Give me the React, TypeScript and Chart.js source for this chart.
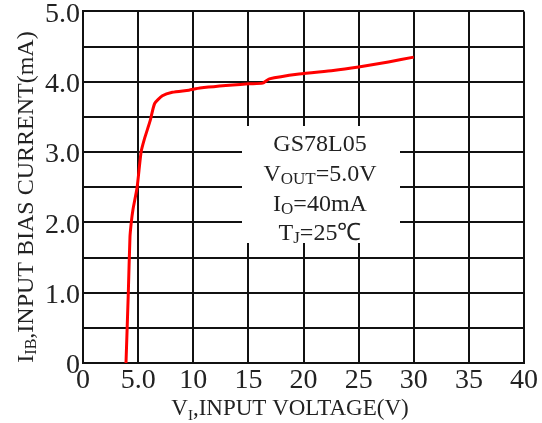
import React, { useEffect, useRef } from "react";
import { Chart, registerables } from "chart.js";

Chart.register(...registerables);

const voltage = [3.9, 4.11, 4.26, 4.38, 4.53, 4.91, 5.27, 5.58, 6.1, 6.5, 7.2, 8.1, 9.6, 10.6, 15, 16.3, 16.9, 19.6, 22.7, 25, 27.7, 30];
const current = [0, 1.0, 1.79, 2.0, 2.18, 2.5, 3.0, 3.19, 3.45, 3.69, 3.8, 3.85, 3.88, 3.91, 3.97, 3.98, 4.04, 4.11, 4.16, 4.21, 4.28, 4.35];

const xTickLabels: Record<number, string> = { 0: "0", 5: "5.0", 10: "10", 15: "15", 20: "20", 25: "25", 30: "30", 35: "35", 40: "40" };
const yTickLabels: Record<number, string> = { 0: "0", 1: "1.0", 2: "2.0", 3: "3.0", 4: "4.0", 5: "5.0" };

type Part = { t: string; sub?: boolean };
const xTitle: Part[] = [{ t: "V" }, { t: "I", sub: true }, { t: ",INPUT VOLTAGE(V)" }];
const yTitle: Part[] = [{ t: "I" }, { t: "IB", sub: true }, { t: ",INPUT BIAS CURRENT(mA)" }];
const noteLines: Part[][] = [
  [{ t: "GS78L05" }],
  [{ t: "V" }, { t: "OUT", sub: true }, { t: "=5.0V" }],
  [{ t: "I" }, { t: "O", sub: true }, { t: "=40mA" }],
  [{ t: "T" }, { t: "J", sub: true }, { t: "=25\u2103" }],
];

const FONT = '"Liberation Serif", "Times New Roman", serif';

function drawRich(ctx: CanvasRenderingContext2D, parts: Part[], x: number, y: number, size: number, subSize: number, subDy: number) {
  let total = 0;
  const widths = parts.map((p) => {
    ctx.font = `${p.sub ? subSize : size}px ${FONT}`;
    const w = ctx.measureText(p.t).width;
    total += w;
    return w;
  });
  let cx = x - total / 2;
  ctx.textAlign = "left";
  ctx.textBaseline = "alphabetic";
  parts.forEach((p, i) => {
    ctx.font = `${p.sub ? subSize : size}px ${FONT}`;
    ctx.fillText(p.t, cx, p.sub ? y + subDy : y);
    cx += widths[i];
  });
}

const overlay = {
  id: "overlay",
  afterDraw(chart: any) {
    const ctx: CanvasRenderingContext2D = chart.ctx;
    ctx.save();
    ctx.fillStyle = "#ffffff";
    ctx.fillRect(242, 126, 158, 117);
    ctx.fillStyle = "#222";
    const baselines = [151, 181, 211, 240];
    noteLines.forEach((ln, i) => drawRich(ctx, ln, 320, baselines[i], 24, 17, 3));
    drawRich(ctx, xTitle, 290, 415, 23, 15, 5);
    ctx.translate(33, 197);
    ctx.rotate(-Math.PI / 2);
    drawRich(ctx, yTitle, 0, 0, 24, 16, 3);
    ctx.restore();
  },
};

export default function App() {
  const ref = useRef<HTMLCanvasElement>(null);
  useEffect(() => {
    const canvas = ref.current!;
    const chart = new Chart(canvas, {
      type: "line",
      data: {
        datasets: [
          {
            data: voltage.map((v, i) => ({ x: v, y: current[i] })),
            borderColor: "#ff0000",
            borderWidth: 3,
            pointRadius: 0,
            tension: 0.2,
            fill: false,
          },
        ],
      },
      options: {
        animation: false,
        responsive: false,
        devicePixelRatio: 1,
        layout: { padding: { top: 10, right: 18, left: 0, bottom: 0 } },
        plugins: { legend: { display: false }, tooltip: { enabled: false } },
        scales: {
          x: {
            type: "linear",
            min: 0,
            max: 40,
            ticks: {
              stepSize: 5,
              color: "#222",
              padding: 4,
              maxRotation: 0,
              font: { family: FONT, size: 28, lineHeight: 1 },
              callback: (v: any) => xTickLabels[v] ?? "",
            },
            grid: { color: "#111", lineWidth: 2, drawTicks: false },
            border: { display: true, color: "#111", width: 2 },
            afterFit: (s: any) => {
              s.height = 60;
            },
          },
          y: {
            type: "linear",
            min: 0,
            max: 5,
            ticks: {
              stepSize: 0.5,
              color: "#222",
              padding: 3,
              labelOffset: 3,
              font: { family: FONT, size: 28, lineHeight: 0.6 },
              callback: (v: any) => yTickLabels[v] ?? "",
            },
            grid: { color: "#111", lineWidth: 2, drawTicks: false },
            border: { display: true, color: "#111", width: 2 },
            afterFit: (s: any) => {
              s.width = 83;
            },
          },
        },
      },
      plugins: [overlay],
    });
    return () => chart.destroy();
  }, []);
  return (
    <div style={{ position: "absolute", left: 0, top: 0, width: 542, height: 423, background: "#fff" }}>
      <canvas ref={ref} width={542} height={423} />
    </div>
  );
}
